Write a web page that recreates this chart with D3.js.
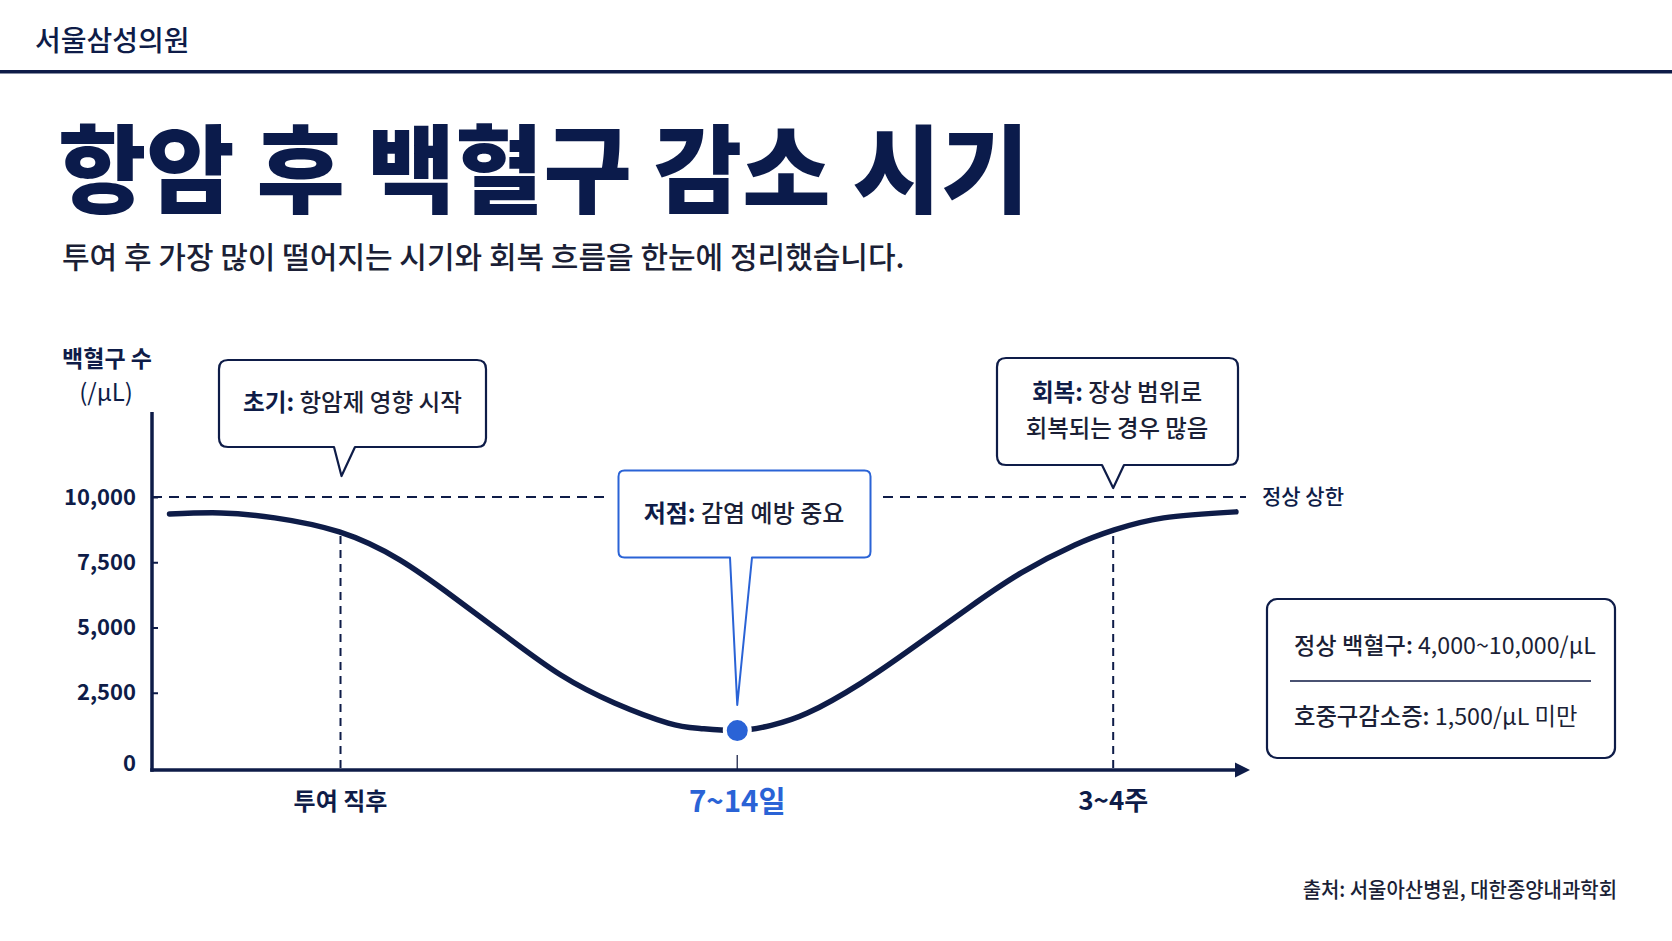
<!DOCTYPE html>
<html><head><meta charset="utf-8">
<script src="https://cdn.jsdelivr.net/npm/d3@7/dist/d3.min.js"></script>
<style>
html,body{margin:0;padding:0;background:#fff;}
svg{display:block;font-family:"Noto Sans CJK KR","Noto Sans",sans-serif;}
</style></head>
<body>
<svg id="c" width="1672" height="941"></svg>
<script>
// ---------- data ----------
const curveT = [1.6, 6.3, 11.2, 17.1, 22.6, 27.5, 32.4, 37.3, 42.2, 47.1, 50.0, 53.4, 56.5, 59.8, 64.7, 69.5, 74.5, 79.3, 84.2, 87.8, 92.3, 98.9];
const curveV = [9350, 9390, 9200, 8660, 7590, 6170, 4640, 3180, 2110, 1340, 1130, 1050, 1250, 1720, 2870, 4250, 5750, 7090, 8160, 8740, 9200, 9430];
const yTicks = [0, 2500, 5000, 7500, 10000];
const xTickT = [17.2, 53.4, 87.7];
const xTickLabels = ["투여 직후", "7~14일", "3~4주"];
const normalMax = 10000;
const nadirT = 53.4, nadirV = 1050;

const NAVY = "#0e1c48", TEXT = "#1b1f36", BLUE = "#2a63d6";
const svg = d3.select("#c");

const x = d3.scaleLinear().domain([0, 100]).range([152, 1248]);
const y = d3.scaleLinear().domain([0, 10000]).range([758, 497]);
const AXIS_Y = 770;

function txt(px, py, parts, o) {
  const t = svg.append("text")
    .attr("transform", `translate(${px},${py}) scale(${o.sx || 1},1)`)
    .attr("text-anchor", o.anchor || "start")
    .style("font-size", o.size + "px");
  parts.forEach(p => t.append("tspan").text(p[0]).attr("font-weight", p[1]).attr("fill", p[2]));
  return t;
}

// ---------- header ----------
txt(35, 51, [["서울삼성의원", 500, NAVY]], {size: 28});
svg.append("rect").attr("x", 0).attr("y", 70).attr("width", 1672).attr("height", 3.5).attr("fill", NAVY);
txt(58, 205, [["항암 후 백혈구 감소 시기", 900, "#0b1b4b"]], {size: 96});
txt(62, 268, [["투여 후 가장 많이 떨어지는 시기와 회복 흐름을 한눈에 정리했습니다.", 500, TEXT]], {size: 30});

// ---------- axes ----------
txt(107, 367, [["백혈구 수", 700, NAVY]], {size: 23, anchor: "middle"});
txt(106, 401, [["(/μL)", 400, NAVY]], {size: 24, anchor: "middle"});

const yAxis = svg.append("g").attr("transform", "translate(152,0)")
  .call(d3.axisLeft(y).tickValues(yTicks).tickSizeInner(-6).tickSizeOuter(0).tickPadding(16)
    .tickFormat(d3.format(",")));
yAxis.select(".domain").remove();
yAxis.selectAll(".tick line").attr("stroke", NAVY).attr("stroke-width", 2)
  .attr("opacity", d => d === 0 ? 0 : 1);
yAxis.selectAll(".tick text").attr("fill", NAVY).style("font-size", "22px").attr("font-weight", 600)
  .style("font-family", '"Noto Sans CJK KR","Noto Sans",sans-serif')
  .attr("dy", d => d === 0 ? "0.55em" : "0.32em");

// normal upper limit dashed line
svg.append("line").attr("x1", 152).attr("x2", 1246).attr("y1", y(normalMax)).attr("y2", y(normalMax))
  .attr("stroke", NAVY).attr("stroke-width", 2).attr("stroke-dasharray", "10 7");
txt(1262, y(normalMax) + 7, [["정상 상한", 500, NAVY]], {size: 21});

// vertical dashed guides at first and last ticks
const curvePts = curveT.map((t, i) => [t, curveV[i]]);
const line = d3.line().x(d => x(d[0])).y(d => y(d[1])).curve(d3.curveNatural);
[xTickT[0], xTickT[2]].forEach(t => {
  svg.append("line").attr("x1", x(t)).attr("x2", x(t)).attr("y1", y(8660) + 4).attr("y2", AXIS_Y)
    .attr("stroke", NAVY).attr("stroke-width", 2).attr("stroke-dasharray", "8 6");
});
svg.append("line").attr("x1", x(xTickT[1])).attr("x2", x(xTickT[1])).attr("y1", AXIS_Y - 15).attr("y2", AXIS_Y)
  .attr("stroke", "#3a4262").attr("stroke-width", 1.5);

// axis lines
svg.append("line").attr("x1", 152).attr("x2", 152).attr("y1", 412).attr("y2", AXIS_Y + 1.75)
  .attr("stroke", NAVY).attr("stroke-width", 3.5);
svg.append("line").attr("x1", 150.25).attr("x2", 1238).attr("y1", AXIS_Y).attr("y2", AXIS_Y)
  .attr("stroke", NAVY).attr("stroke-width", 3.5);
svg.append("path").attr("d", `M1250,${AXIS_Y} L1235,${AXIS_Y - 7.5} L1235,${AXIS_Y + 7.5} Z`).attr("fill", NAVY);

// x tick labels
xTickLabels.forEach((s, i) => {
  const mid = i === 1;
  txt(x(xTickT[i]), mid ? 812 : 810, [[s, 700, mid ? BLUE : NAVY]], {size: mid ? 29.5 : (i === 0 ? 24 : 26), anchor: "middle"});
});

// curve
svg.append("path").datum(curvePts).attr("d", line).attr("fill", "none")
  .attr("stroke", NAVY).attr("stroke-width", 5.5).attr("stroke-linecap", "round");

// nadir dot
svg.append("circle").attr("cx", x(nadirT)).attr("cy", y(nadirV)).attr("r", 12.5)
  .attr("fill", BLUE).attr("stroke", "#fff").attr("stroke-width", 4);

// ---------- callouts ----------
function callout(x0, y0, x1, y1, r, b0, b1, tx, ty) {
  return `M${x0 + r},${y0} H${x1 - r} Q${x1},${y0} ${x1},${y0 + r} V${y1 - r} Q${x1},${y1} ${x1 - r},${y1}` +
    ` H${b1} L${tx},${ty} L${b0},${y1} H${x0 + r} Q${x0},${y1} ${x0},${y1 - r} V${y0 + r} Q${x0},${y0} ${x0 + r},${y0} Z`;
}

// 초기
svg.append("path").attr("d", callout(219, 360, 486, 447, 9, 334, 355, x(xTickT[0]) + 1, 476))
  .attr("fill", "#fff").attr("stroke", NAVY).attr("stroke-width", 2.2).attr("stroke-linejoin", "round");
txt(352.5, 411, [["초기:", 700, NAVY], [" 항암제 영향 시작", 500, TEXT]], {size: 23.6, anchor: "middle"});

// 저점
svg.append("rect").attr("x", 608).attr("y", 488).attr("width", 274).attr("height", 20).attr("fill", "#fff");
svg.append("path").attr("d", callout(618.5, 470.5, 870.5, 557.5, 6, 730, 752, x(nadirT), 705))
  .attr("fill", "#fff").attr("stroke", BLUE).attr("stroke-width", 2).attr("stroke-linejoin", "round");
txt(744, 522, [["저점:", 700, NAVY], [" 감염 예방 중요", 500, TEXT]], {size: 24, anchor: "middle"});

// 회복
svg.append("path").attr("d", callout(997, 358, 1238, 465, 9, 1102, 1124, x(xTickT[2]), 488))
  .attr("fill", "#fff").attr("stroke", NAVY).attr("stroke-width", 2.2).attr("stroke-linejoin", "round");
txt(1117, 401, [["회복:", 700, NAVY], [" 장상 범위로", 500, TEXT]], {size: 23.6, anchor: "middle"});
txt(1117, 437, [["회복되는 경우 많음", 500, TEXT]], {size: 23.4, anchor: "middle"});

// legend box
svg.append("rect").attr("x", 1267).attr("y", 599).attr("width", 348).attr("height", 159).attr("rx", 10)
  .attr("fill", "#fff").attr("stroke", NAVY).attr("stroke-width", 2.2);
txt(1294, 654, [["정상 백혈구:", 500, TEXT], [" 4,000~10,000/μL", 400, TEXT]], {size: 23.2});
svg.append("line").attr("x1", 1290).attr("x2", 1591).attr("y1", 681).attr("y2", 681)
  .attr("stroke", "#4a5272").attr("stroke-width", 2);
txt(1294, 725, [["호중구감소증:", 500, TEXT], [" 1,500/μL 미만", 400, TEXT]], {size: 23.3});

// source
txt(1617, 897, [["출처: 서울아산병원, 대한종양내과학회", 500, TEXT]], {size: 21, anchor: "end", sx: 0.95});
</script>
</body></html>
